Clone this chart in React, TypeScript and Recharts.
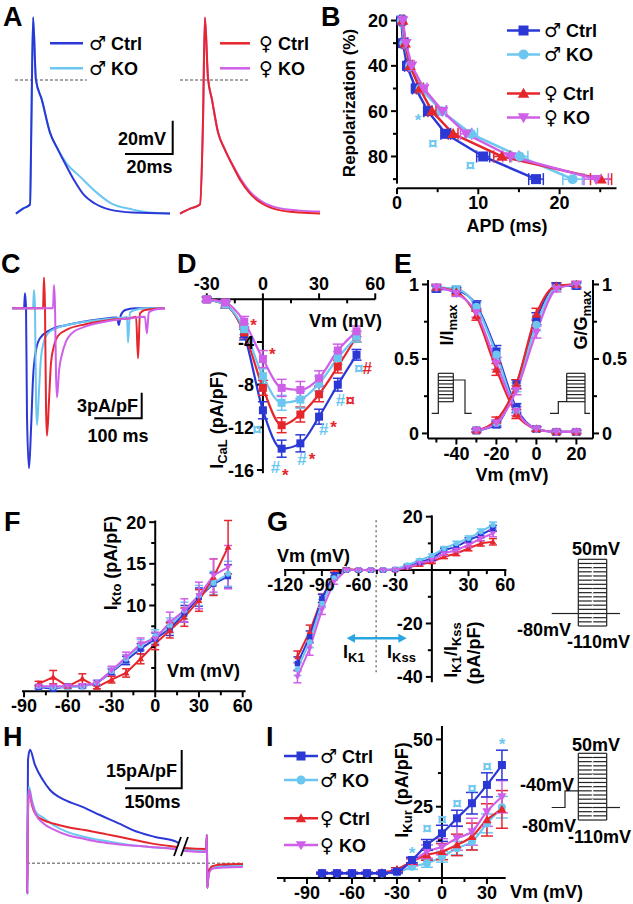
import React from "react";
import {
  ComposedChart,
  Line,
  Scatter,
  XAxis,
  YAxis,
  ErrorBar,
  ReferenceLine,
  ReferenceDot,
} from "recharts";

const FONT = "'Liberation Sans', Arial, 'DejaVu Sans', sans-serif";
const MC = "#2b38d6"; // male ctrl
const MK = "#6cc7f0"; // male KO
const FC = "#e6262d"; // female ctrl
const FK = "#cf5fe8"; // female KO

// ---- A: action potentials (ms, mV)
const apMcT = [0.4, 3.4, 6.4, 7.0, 7.7, 8.9, 11.4, 14.9, 18.3, 22.0, 25.5, 28.9, 34.0, 40.4, 50.2, 66.0];
const apMcV = [-80, -77, -74.5, -23, 39, 1.2, -10.9, -30.9, -41.2, -51.5, -60.6, -67.9, -73.9, -77.6, -79.4, -80];
const apMkT = [0.4, 3.4, 6.4, 7.0, 7.7, 8.9, 11.4, 14.9, 18.3, 22.0, 27.7, 34.8, 40.4, 50.2, 57.4, 66.0];
const apMkV = [-80, -77, -74.5, -23, 39, 1.2, -10.9, -30.9, -41.2, -49.7, -57.6, -67.3, -73.3, -77.6, -79.4, -80];
const apFT = [0, 4.3, 8.5, 9.8, 10.6, 11.9, 13.6, 16.2, 19.1, 22.6, 26.0, 29.8, 34.9, 41.3, 51.0, 59.6];
const apFcV = [-80, -77, -74.5, -23, 38.8, 2.4, -10.9, -30.9, -41.2, -51.5, -60.6, -67.9, -73.9, -77.6, -79.4, -80];
const apFkV = [-80, -77, -74.5, -23, 38.8, 2.4, -10.9, -30.9, -41.2, -50.9, -59.4, -66.7, -72.7, -76.4, -78.2, -78.8];

// ---- B: APD at % repolarization
const bRep = [20, 30, 40, 50, 60, 70, 80, 90];
const bMc = [0.54, 0.74, 1.23, 2.3, 3.8, 6.0, 10.6, 17.1];
const bMk = [0.6, 0.9, 1.6, 2.9, 5.5, 9.1, 15.1, 21.6];
const bFc = [0.7, 1.0, 1.6, 2.8, 4.3, 6.9, 12.9, 25.1];
const bFk = [0.7, 1.1, 1.8, 3.3, 5.6, 8.5, 14.0, 24.5];
const bMcE = [0.2, 0.2, 0.3, 0.4, 0.5, 0.6, 0.8, 0.9];
const bMkE = [0.2, 0.3, 0.3, 0.4, 0.5, 0.8, 1.0, 1.2];
const bFcE = [0.2, 0.3, 0.3, 0.4, 0.5, 0.6, 1.0, 1.3];
const bFkE = [0.2, 0.3, 0.3, 0.4, 0.5, 0.7, 1.0, 1.5];
const bNoteX = [2.6, 4.4, 9.0];
const bNoteY = [62, 74, 84];
const bNoteT = ["*", "¤", "¤"];

// ---- C: ICaL traces (ms, pA/pF)
const cMcT = [0, 24.5, 26.5, 28.6, 30.6, 34.7, 38.8, 42.8, 49, 57, 77.5, 112, 180, 214, 218, 222, 231, 251, 312];
const cMcI = [0, 0, 1.8, 0, -13, -19.2, -14.5, -8.5, -5, -3.6, -2.6, -2.0, -1.3, -1.1, -2.0, -0.8, -0.2, 0, 0];
const cMkT = [0, 42.8, 44.9, 46.9, 49, 51, 55, 59, 65, 73.4, 94, 130, 190, 230, 234.6, 236.6, 240.7, 251, 271, 312];
const cMkI = [0, 0, 2.2, 0, -11, -14, -10, -6, -4, -3, -2.3, -1.8, -1.3, -1.1, -1.0, -4.1, -0.5, -0.2, 0, 0];
const cFcT = [0, 63.2, 65.3, 67.3, 69.4, 71.4, 75.5, 79.6, 85.7, 93.8, 114, 150, 200, 240, 253, 257, 261, 271, 312];
const cFcI = [0, 0, 3.7, 0, -12, -15.3, -11, -6.5, -4.5, -3.3, -2.5, -1.9, -1.4, -1.2, -1.0, -6.0, -0.6, -0.2, 0];
const cFkT = [0, 83.6, 85.7, 87.8, 89.8, 91.8, 95.9, 102, 110, 122, 149, 200, 240, 271, 275, 279, 288, 312];
const cFkI = [0, 0, 2.8, 0, -8, -10.7, -7.5, -5.5, -4, -3, -2.2, -1.5, -1.2, -1.0, -3.0, -0.5, -0.2, 0];

// ---- D: ICaL I-V
const dV = [-30, -20, -10, 0, 10, 20, 30, 40, 50];
const dMc = [0, -0.5, -3.3, -10.4, -14, -13.5, -11, -8, -5.2];
const dMk = [0, -0.5, -2.8, -7.2, -9.7, -9.4, -7.9, -5.5, -3.5];
const dFc = [0, -0.5, -3.1, -8.3, -11.8, -10.8, -8.9, -6.3, -3.5];
const dFk = [0, -0.3, -2.1, -5.6, -8.3, -8.5, -7.4, -4.8, -3.0];
const dMcE = [0.2, 0.3, 0.5, 0.8, 0.8, 0.8, 0.7, 0.6, 0.5];
const dMkE = [0.2, 0.3, 0.5, 0.7, 0.7, 0.8, 0.7, 0.6, 0.5];
const dFcE = [0.2, 0.3, 0.5, 0.7, 0.7, 0.7, 0.7, 0.6, 0.5];
const dFkE = [0.2, 0.3, 0.5, 0.8, 0.8, 0.8, 0.7, 0.6, 0.5];
const dNoteX = [-5, 5, -3.2, 6.7, 12, 20.9, 26.3, 32.5, 37.8, 41.4, 46.7, 51.2, 55.7];
const dNoteY = [-2.0, -4.7, -12.2, -15.7, -16.1, -15, -14.6, -12.2, -11.6, -9.4, -9.4, -6.4, -6.4];
const dNoteT = ["*", "*", "¤", "#", "*", "#", "*", "#", "*", "#", "¤", "¤", "#"];
const dNoteC = [FC, FC, MK, MK, FC, MK, FC, MK, FC, MK, FC, MK, FC];

// ---- E: inactivation / activation
const eInV = [-50, -40, -30, -20, -10, 0, 10, 20];
const eInMc = [0.97, 0.96, 0.86, 0.55, 0.17, 0.03, 0.01, 0.01];
const eInMk = [0.98, 0.97, 0.85, 0.53, 0.15, 0.03, 0.01, 0.01];
const eInFc = [0.98, 0.95, 0.79, 0.43, 0.13, 0.03, 0.01, 0.01];
const eInFk = [0.98, 0.94, 0.81, 0.47, 0.15, 0.03, 0.01, 0.01];
const eInE = [0.02, 0.02, 0.03, 0.04, 0.03, 0.015, 0.01, 0.01];
const eAcV = [-30, -20, -10, 0, 10, 20];
const eAcMc = [0.02, 0.06, 0.33, 0.77, 0.99, 0.99];
const eAcMk = [0.02, 0.07, 0.31, 0.73, 0.98, 1.0];
const eAcFc = [0.02, 0.09, 0.33, 0.8, 0.99, 1.0];
const eAcFk = [0.02, 0.07, 0.29, 0.68, 0.97, 1.0];
const eAcE = [0.01, 0.02, 0.03, 0.04, 0.02, 0.02];

// ---- F: IKto I-V
const fV = [-80, -70, -60, -50, -40, -30, -20, -10, 0, 10, 20, 30, 40, 50];
const fMc = [0.2, 0.0, 0.3, 0.3, 0.7, 2.0, 3.4, 4.8, 6.0, 7.2, 9.0, 11.0, 12.6, 13.5];
const fMk = [0.3, 0.2, 0.2, 0.3, 0.7, 2.1, 3.6, 5.2, 6.3, 7.6, 9.4, 11.2, 12.7, 13.8];
const fFc = [0.6, 1.4, 0.3, 1.2, 0.2, 1.1, 1.9, 3.6, 5.4, 7.0, 8.6, 10.6, 13.4, 17.0];
const fFk = [0.3, 0.3, 0.3, 0.4, 0.7, 2.2, 3.8, 5.4, 6.0, 8.0, 9.4, 11.2, 13.6, 14.6];
const fMcE = [0.2, 0.2, 0.2, 0.2, 0.3, 0.4, 0.5, 0.6, 0.7, 0.8, 1.0, 1.1, 1.3, 1.4];
const fMkE = [0.2, 0.2, 0.2, 0.2, 0.3, 0.4, 0.5, 0.7, 0.8, 0.9, 1.0, 1.2, 1.4, 1.5];
const fFcE = [0.3, 0.8, 0.2, 0.6, 0.2, 0.4, 0.5, 0.6, 0.7, 0.9, 1.1, 1.3, 2.2, 3.2];
const fFkE = [0.2, 0.2, 0.2, 0.2, 0.3, 0.5, 0.6, 0.7, 0.8, 1.2, 1.4, 1.6, 2.0, 2.6];

// ---- G: IK1 / IKss I-V
const gV = [-110, -100, -90, -80, -70, -60, -50, -40, -30, -20, -10, 0, 10, 20, 30, 40, 50];
const gMc = [-35, -25, -10.6, -1.8, 0, 0, 0, 0, 0.2, 1.5, 2.9, 4.4, 7.5, 8.7, 11.2, 13.1, 15.6];
const gMk = [-37, -26.9, -12.5, -3, 0, 0, 0, 0, 0.3, 1.9, 3.7, 5.4, 8.1, 10, 11.9, 14.4, 16.9];
const gFc = [-32.5, -23.1, -10.6, -1.2, 0.4, 0, 0, 0, 0.1, 1.0, 2.0, 3.1, 5.0, 6.2, 8.1, 10, 10.6];
const gFk = [-40, -29.4, -15, -4.4, 0, 0, 0, 0, 0.1, 1.0, 2.5, 3.7, 6.2, 7.5, 9.4, 11.9, 13.7];
const gME = [2.5, 2.2, 1.5, 0.8, 0.4, 0.3, 0.3, 0.3, 0.3, 0.4, 0.5, 0.6, 0.7, 0.8, 0.9, 1.0, 1.1];
const gFE = [2.2, 2.5, 1.6, 0.9, 0.4, 0.3, 0.3, 0.3, 0.3, 0.4, 0.5, 0.6, 0.7, 0.8, 0.9, 1.0, 1.2];

// ---- H: IKur traces (ms, pA/pF)
const hMcT = [0, 0.5, 2.6, 7.9, 21, 42, 61, 100, 148, 193, 246, 280, 339, 397, 418, 474, 476, 477, 481, 492, 524, 571];
const hMcI = [0, -11.7, 40.4, 44.4, 38.5, 32.6, 28.7, 24.8, 22, 18.9, 15.4, 13, 10.3, 8.3, 5.6, 4.5, 11.1, -9.6, -2.6, -1.8, -1.0, -0.7];
const hT = [0, 0.5, 2.6, 5.3, 13, 24, 42, 74, 106, 153, 193, 259, 325, 397, 418, 474, 476, 477, 481, 492, 524, 571];
const hMkI = [0, -11.7, 22, 30, 24.8, 20, 18, 14.6, 12.3, 10.3, 9.1, 7.5, 6.4, 5.6, 5.2, 4.9, 11.1, -9.6, -3.5, -1.5, -1.2, -1.0];
const hFcI = [0, -11.7, 20, 28.7, 22.8, 18.9, 17, 15.4, 14.2, 13, 11.9, 9.9, 7.9, 6.4, 6.0, 5.6, 11.1, -9.6, -3.0, -1.0, -0.4, -0.3];
const hFkI = [0, -11.7, 20, 28.7, 23.6, 18.9, 15.8, 13, 11.1, 9.5, 8.3, 7.2, 6.4, 5.4, 4.8, 4.4, 11.1, -9.6, -4, -2, -1.6, -1.4];

// ---- I: IKur I-V
const iV = [-80, -70, -60, -50, -40, -30, -20, -10, 0, 10, 20, 30, 40];
const iMc = [0.3, 0.3, 0.3, 0.3, 0.3, 0.9, 5.2, 10.8, 15.1, 20.7, 26.3, 33.1, 40.5];
const iMk = [0.2, 0.2, 0.2, 0.2, 0.2, 0.5, 2.7, 4.0, 6.4, 9.6, 12.0, 18.8, 24.8];
const iFc = [0.3, 0.3, 0.3, 0.3, 0.5, 1.7, 4.6, 7.1, 8.3, 10.8, 13.9, 20.1, 24.0];
const iFk = [0.3, 0.3, 0.3, 0.3, 0.3, 0.9, 4.6, 8.3, 10.1, 13.3, 15.7, 23.2, 28.7];
const iMcE = [0.3, 0.3, 0.3, 0.3, 0.3, 0.5, 1.0, 2.0, 3.0, 3.0, 4.0, 4.5, 5.5];
const iMkE = [0.2, 0.2, 0.2, 0.2, 0.2, 0.4, 1.0, 1.5, 2.0, 2.5, 3.0, 3.5, 4.0];
const iFcE = [0.3, 0.3, 0.3, 0.3, 0.4, 0.6, 1.0, 2.0, 3.0, 4.0, 5.0, 6.0, 7.0];
const iFkE = [0.3, 0.3, 0.3, 0.3, 0.3, 0.6, 1.5, 2.5, 3.0, 4.5, 5.0, 5.5, 6.0];
const iNoteX = [-20, -10, 0, 10, 20, 30, 40];
const iNoteY = [9.5, 17, 20.5, 26.3, 32, 40, 50];
const iNoteT = ["*", "¤", "¤", "¤", "¤", "¤", "*"];

// protocol step levels (mV)
const protoSteps = [-110, -100, -90, -80, -70, -60, -50, -40, -30, -20, -10, 0, 10, 20, 30, 40, 50];
const eInsetSteps = [0, 1, 2, 3, 4, 5, 6, 7, 8];

const mk = (xs: number[], ys: number[], es?: number[]) =>
  xs.map((x, i) => ({ x, y: ys[i], e: es ? es[i] : 0 }));

// chart frame: r = plot rect in page pixels [left, top, right, bottom]
const M = 30;
type Rect = [number, number, number, number];
const pos = (r: Rect): React.CSSProperties => ({ position: "absolute", left: r[0] - M, top: r[1] - M });
const W = (r: Rect) => r[2] - r[0] + 2 * M;
const H = (r: Rect) => r[3] - r[1] + 2 * M;
const MAR = { top: M, right: M, bottom: M, left: M };

const TF: any = { fontFamily: FONT, fontWeight: 700, fontSize: 18, fill: "#000" };

function marker(kind: string, size: number, color: string) {
  return (p: any) => {
    const { cx, cy } = p;
    if (cx == null || cy == null) return <g />;
    const h = size / 2;
    if (kind === "sq") return <rect x={cx - h} y={cy - h} width={size} height={size} fill={color} />;
    if (kind === "ci") return <circle cx={cx} cy={cy} r={h} fill={color} />;
    if (kind === "tu")
      return <polygon points={`${cx},${cy - h * 1.15} ${cx + h * 1.15},${cy + h * 0.85} ${cx - h * 1.15},${cy + h * 0.85}`} fill={color} />;
    return <polygon points={`${cx},${cy + h * 1.15} ${cx + h * 1.15},${cy - h * 0.85} ${cx - h * 1.15},${cy - h * 0.85}`} fill={color} />;
  };
}

function series(id: string, data: any[], color: string, kind: string, size: number, o: any = {}) {
  return [
    <Line key={id + "l"} data={data} dataKey="y" type={o.curve || "linear"} stroke={color}
      strokeWidth={o.lw || 2} dot={false} activeDot={false} isAnimationActive={false} />,
    <Scatter key={id + "s"} data={data} dataKey="y" fill={color} shape={marker(kind, size, color)}
      isAnimationActive={false}>
      <ErrorBar dataKey="e" direction={o.dir || "y"} width={o.cap || 5} stroke={color} strokeWidth={1.5} />
    </Scatter>,
  ];
}

function trace(id: string, data: any[], color: string, lw = 2) {
  return <Line key={id} data={data} dataKey="y" type="monotone" stroke={color} strokeWidth={lw}
    dot={false} activeDot={false} isAnimationActive={false} />;
}

function tickMark(side: string, x: number, y: number, label: string | null, len: number) {
  const ln = side === "b" ? [x, y, x, y + len] : side === "t" ? [x, y, x, y - len]
    : side === "l" ? [x - len, y, x, y] : [x, y, x + len, y];
  let t: any = null;
  if (label !== null) {
    if (side === "b") t = <text x={x} y={y + len + 15} textAnchor="middle" {...TF}>{label}</text>;
    else if (side === "t") t = <text x={x} y={y - len - 3} textAnchor="middle" {...TF}>{label}</text>;
    else if (side === "l") t = <text x={x - len - 3} y={y + 6.5} textAnchor="end" {...TF}>{label}</text>;
    else t = <text x={x + len + 3} y={y + 6.5} textAnchor="start" {...TF}>{label}</text>;
  }
  return (
    <g>
      <line x1={ln[0]} y1={ln[1]} x2={ln[2]} y2={ln[3]} stroke="#000" strokeWidth={2} />
      {t}
    </g>
  );
}

function refTicks(id: string, side: string, along: string, at: number, vals: number[], labeled: number[], minorSide?: string) {
  return vals.map((v) => {
    const on = labeled.includes(v);
    const s = !on && minorSide ? minorSide : side;
    return (
      <ReferenceDot key={id + v} x={along === "x" ? v : at} y={along === "x" ? at : v} r={1}
        ifOverflow="visible" fill="none" stroke="none"
        shape={(p: any) => tickMark(s, p.cx, p.cy, on ? String(v) : null, on ? 6 : 4)} />
    );
  });
}

function axisSeg(id: string, x1: number, y1: number, x2: number, y2: number) {
  return <ReferenceLine key={id} segment={[{ x: x1, y: y1 }, { x: x2, y: y2 }]} stroke="#000" strokeWidth={2} ifOverflow="visible" />;
}

function notes(id: string, xs: number[], ys: number[], txt: string[], cols: string[] | string, size = 16) {
  return xs.map((x, i) => (
    <ReferenceDot key={id + i} x={x} y={ys[i]} r={1} ifOverflow="visible" fill="none" stroke="none"
      shape={(p: any) => (
        <text x={p.cx} y={p.cy + (txt[i] === "*" ? size * 0.6 : size * 0.35)} textAnchor="middle"
          fontFamily={FONT} fontWeight={700} fontSize={size}
          fill={Array.isArray(cols) ? cols[i] : cols}>{txt[i]}</text>
      )} />
  ));
}

const hideX = (d: number[]) => <XAxis type="number" dataKey="x" domain={d} hide />;
const hideY = (d: number[], rev = false) => <YAxis type="number" dataKey="y" domain={d} reversed={rev} hide />;

// plot rectangles
const rA1: Rect = [15, 9.4, 170, 217.3];
const rA2: Rect = [180, 9.4, 321, 217.3];
const rB: Rect = [397.3, 16.2, 616.8, 188.4];
const rC: Rect = [12, 270, 165, 470];
const rD: Rect = [202.8, 294.2, 378.8, 480.9];
const rE: Rect = [428.3, 279.8, 593.3, 438.3];
const rF: Rect = [22, 517.5, 245.6, 690.8];
const rG: Rect = [283.8, 513.9, 506.2, 687.5];
const rH: Rect = [27, 745, 243.2, 895];
const rI: Rect = [276.7, 726, 505.4, 878];

function vtext(x: number, y: number, children: any, size = 18) {
  return (
    <text transform={`translate(${x},${y}) rotate(-90)`} textAnchor="middle" fontFamily={FONT} fontWeight={700} fontSize={size} fill="#000">
      {children}
    </text>
  );
}
const sub = (s: string) => <tspan fontSize={13} dy={4}>{s}</tspan>;
const up = (s: string) => <tspan dy={-4}>{s}</tspan>;

function t18(x: number, y: number, s: string, anchor = "start", size = 18, fill = "#000") {
  return <text x={x} y={y} textAnchor={anchor} fontFamily={FONT} fontWeight={700} fontSize={size} fill={fill}>{s}</text>;
}

// legend-style label with a larger sex symbol
function sexLabel(x: number, y: number, sym: string, s: string) {
  return (
    <text x={x} y={y} fontFamily={FONT} fontWeight={700} fontSize={18} fill="#000">
      <tspan fontFamily="'DejaVu Sans', sans-serif" fontSize={19}>{sym}</tspan>
      <tspan> {s}</tspan>
    </text>
  );
}

function Protocol({ top, x0, x1, pre }: { top: number; x0: number; x1: number; pre: boolean }) {
  const y = (v: number) => top + (50 - v) * 0.417;
  const base = y(-80);
  return (
    <g stroke="#222" strokeWidth={1.2} fill="none">
      {pre ? (
        <path d={`M551.7 ${base} H565 V${y(-40)} H${x0}`} />
      ) : (
        <path d={`M551.7 ${base} H${x0}`} />
      )}
      <path d={`M${x1} ${base} H620`} />
      {protoSteps.map((v) => (
        <line key={v} x1={x0} x2={x1} y1={y(v)} y2={y(v)} />
      ))}
      <line x1={x0} x2={x0} y1={y(50)} y2={y(-110)} />
      <line x1={x1} x2={x1} y1={y(50)} y2={y(-110)} />
      <line x1={(x0 + x1) / 2} x2={(x0 + x1) / 2} y1={y(50) + 1} y2={y(-110) - 1} stroke="#fff" strokeWidth={1.5} strokeDasharray="3 2" />
    </g>
  );
}

function Overlay() {
  const legend = (x0: number, x1: number, tx: number, ys: number[], sz: number) => {
    const items = [
      [MC, "sq", "♂", "Ctrl"],
      [MK, "ci", "♂", "KO"],
      [FC, "tu", "♀", "Ctrl"],
      [FK, "td", "♀", "KO"],
    ];
    return items.map((it, i) => (
      <g key={i}>
        <line x1={x0} x2={x1} y1={ys[i]} y2={ys[i]} stroke={it[0]} strokeWidth={2.5} />
        {marker(it[1], sz, it[0])({ cx: (x0 + x1) / 2, cy: ys[i] })}
        {sexLabel(tx, ys[i] + 6.5, it[2], it[3])}
      </g>
    ));
  };
  const eY = (i: number) => 373.3 + i * 3.55;
  return (
    <svg width={633} height={904} style={{ position: "absolute", left: 0, top: 0, pointerEvents: "none" }}>
      {/* panel letters */}
      {t18(3, 26, "A", "start", 27)}
      {t18(321, 26, "B", "start", 27)}
      {t18(1, 273, "C", "start", 27)}
      {t18(177, 273, "D", "start", 27)}
      {t18(394, 273, "E", "start", 27)}
      {t18(4, 531, "F", "start", 27)}
      {t18(267, 531, "G", "start", 27)}
      {t18(3, 746, "H", "start", 27)}
      {t18(266, 746, "I", "start", 27)}

      {/* A legend + scale */}
      <line x1={50} x2={83} y1={43.3} y2={43.3} stroke={MC} strokeWidth={2.5} />
      <line x1={50} x2={83} y1={68.3} y2={68.3} stroke={MK} strokeWidth={2.5} />
      {sexLabel(89, 50, "♂", "Ctrl")}
      {sexLabel(89, 75, "♂", "KO")}
      <line x1={220} x2={250} y1={43.3} y2={43.3} stroke={FC} strokeWidth={2.5} />
      <line x1={220} x2={250} y1={68.3} y2={68.3} stroke={FK} strokeWidth={2.5} />
      {sexLabel(259, 50, "♀", "Ctrl")}
      {sexLabel(259, 75, "♀", "KO")}
      <path d="M172.7 120.7 V154 H125" stroke="#000" strokeWidth={2} fill="none" />
      {t18(166, 145, "20mV", "end")}
      {t18(149.5, 173, "20ms", "middle")}

      {/* B */}
      {legend(507, 540, 544, [30.5, 54.5, 93.5, 117.5], 10)}
      {vtext(355, 103, "Repolarization (%)", 17)}
      {t18(507, 232, "APD (ms)", "middle")}

      {/* C scale */}
      <path d="M141.7 392.7 V418.3 H94.3" stroke="#000" strokeWidth={2} fill="none" />
      {t18(138, 412, "3pA/pF", "end")}
      {t18(118, 442, "100 ms", "middle")}

      {/* D labels */}
      {t18(309, 327, "Vm (mV)")}
      {vtext(223, 420, <>I{sub("CaL")}{up(" (pA/pF)")}</>)}

      {/* E */}
      {t18(512, 481, "Vm (mV)", "middle")}
      {vtext(453, 325, <>I/I{sub("max")}</>)}
      {vtext(587, 320, <>G/G{sub("max")}</>)}
      <g stroke="#222" strokeWidth={1.2} fill="none">
        <path d="M431.7 413.3 H438.3 V373.3" />
        {eInsetSteps.map((i) => <line key={"el" + i} x1={438.3} x2={453.3} y1={eY(i)} y2={eY(i)} />)}
        <path d="M453.3 373.3 V401.7 M453.3 380 H465 V413.3 H471.7" />
        <path d="M550 413.3 H558.3 V401.7 H566.7 V373.3" />
        {eInsetSteps.map((i) => <line key={"er" + i} x1={566.7} x2={585} y1={eY(i)} y2={eY(i)} />)}
        <path d="M585 373.3 V413.3 H590" />
      </g>

      {/* F */}
      {vtext(117, 563, <>I{sub("Kto")}{up(" (pA/pF)")}</>)}
      {t18(167, 677, "Vm (mV)")}

      {/* G */}
      {t18(277, 562, "Vm (mV)")}
      {vtext(457, 650, <>I{sub("K1")}{up("/I")}{sub("Kss")}</>)}
      {vtext(480, 653, "(pA/pF)")}
      <line x1={352} x2={401} y1={638.3} y2={638.3} stroke="#29a6e0" strokeWidth={2.5} />
      <polygon points="346.7,638.3 355,633.8 355,642.8" fill="#29a6e0" />
      <polygon points="406.7,638.3 398.4,633.8 398.4,642.8" fill="#29a6e0" />
      <text x={343} y={658} fontFamily={FONT} fontWeight={700} fontSize={18}>I{sub("K1")}</text>
      <text x={387} y={658} fontFamily={FONT} fontWeight={700} fontSize={18}>I{sub("Kss")}</text>
      <Protocol top={559.3} x0={578.3} x1={606.7} pre={false} />
      {t18(572, 555, "50mV")}
      {t18(517, 636, "-80mV")}
      {t18(567, 648, "-110mV")}

      {/* H */}
      <polygon points="174,856 181,837 188,837 181,856" fill="#fff" />
      <line x1={174} y1={856} x2={181} y2={837} stroke="#000" strokeWidth={1.8} />
      <line x1={181} y1={856} x2={188} y2={837} stroke="#000" strokeWidth={1.8} />
      <path d="M181.7 750 V788.3 H125" stroke="#000" strokeWidth={2} fill="none" />
      {t18(177, 777, "15pA/pF", "end")}
      {t18(152.5, 808, "150ms", "middle")}

      {/* I */}
      {legend(284, 318, 320, [756, 780, 818.3, 845], 9)}
      {vtext(408, 790, <>I{sub("Kur")}{up(" (pA/pF)")}</>)}
      {t18(510, 898, "Vm (mV)")}
      <Protocol top={753.3} x0={578.3} x1={606.7} pre={true} />
      {t18(572, 751, "50mV")}
      {t18(520, 791, "-40mV")}
      {t18(522, 832, "-80mV")}
      {t18(568, 843, "-110mV")}
    </svg>
  );
}

export default function App() {
  return (
    <div style={{ position: "absolute", left: 0, top: 0, width: 633, height: 904, background: "#fff", overflow: "hidden" }}>
      <style>{".recharts-surface{overflow:visible}"}</style>

      {/* A male */}
      <div style={pos(rA1)}>
        <ComposedChart width={W(rA1)} height={H(rA1)} margin={MAR}>
          {hideX([0, 66])}
          {hideY([-82, 44])}
          <ReferenceLine segment={[{ x: 0, y: 1 }, { x: 30.6, y: 1 }]} stroke="#888" strokeWidth={1.5} strokeDasharray="3 2" ifOverflow="visible" />
          {trace("amk", mk(apMkT, apMkV), MK)}
          {trace("amc", mk(apMcT, apMcV), MC)}
        </ComposedChart>
      </div>

      {/* A female */}
      <div style={pos(rA2)}>
        <ComposedChart width={W(rA2)} height={H(rA2)} margin={MAR}>
          {hideX([0, 60])}
          {hideY([-82, 44])}
          <ReferenceLine segment={[{ x: 0, y: 1 }, { x: 29.8, y: 1 }]} stroke="#888" strokeWidth={1.5} strokeDasharray="3 2" ifOverflow="visible" />
          {trace("afk", mk(apFT, apFkV), FK)}
          {trace("afc", mk(apFT, apFcV), FC)}
        </ComposedChart>
      </div>

      {/* B */}
      <div style={pos(rB)}>
        <ComposedChart width={W(rB)} height={H(rB)} margin={MAR}>
          {hideX([0, 27])}
          {hideY([18, 94], true)}
          {axisSeg("bx", 0, 94, 27, 94)}
          {axisSeg("by", 0, 18.3, 0, 92)}
          {refTicks("bxt", "b", "x", 94, [0, 5, 10, 15, 20, 25], [0, 10, 20])}
          {refTicks("byt", "l", "y", 0, [20, 30, 40, 50, 60, 70, 80, 90], [20, 40, 60, 80])}
          {series("bmc", mk(bMc, bRep, bMcE), MC, "sq", 10, { dir: "x", lw: 2.5, cap: 6 })}
          {series("bmk", mk(bMk, bRep, bMkE), MK, "ci", 10, { dir: "x", lw: 2.5, cap: 6 })}
          {series("bfc", mk(bFc, bRep, bFcE), FC, "tu", 10, { dir: "x", lw: 2.5, cap: 6 })}
          {series("bfk", mk(bFk, bRep, bFkE), FK, "td", 10, { dir: "x", lw: 2.5, cap: 6 })}
          {notes("bn", bNoteX, bNoteY, bNoteT, MK, 17)}
        </ComposedChart>
      </div>

      {/* C */}
      <div style={pos(rC)}>
        <ComposedChart width={W(rC)} height={H(rC)} margin={MAR}>
          {hideX([0, 312])}
          {hideY([-19.4, 4.6])}
          {trace("cmc", mk(cMcT, cMcI), MC)}
          {trace("cmk", mk(cMkT, cMkI), MK)}
          {trace("cfc", mk(cFcT, cFcI), FC)}
          {trace("cfk", mk(cFkT, cFkI), FK)}
        </ComposedChart>
      </div>

      {/* D */}
      <div style={pos(rD)}>
        <ComposedChart width={W(rD)} height={H(rD)} margin={MAR}>
          {hideX([-32, 62])}
          {hideY([-17, 0.5])}
          {axisSeg("dx", -30, 0, 60, 0)}
          {axisSeg("dy", 0, 0, 0, -16.3)}
          {refTicks("dxt", "t", "x", 0, [-30, -15, 0, 15, 30, 45, 60], [-30, 0, 30, 60], "b")}
          {refTicks("dyt", "l", "y", 0, [-4, -8, -12, -16], [-4, -8, -12, -16])}
          {series("dmc", mk(dV, dMc, dMcE), MC, "sq", 8, { curve: "monotone", lw: 2.2 })}
          {series("dfc", mk(dV, dFc, dFcE), FC, "sq", 8, { curve: "monotone", lw: 2.2 })}
          {series("dmk", mk(dV, dMk, dMkE), MK, "sq", 8, { curve: "monotone", lw: 2.2 })}
          {series("dfk", mk(dV, dFk, dFkE), FK, "sq", 8, { curve: "monotone", lw: 2.2 })}
          {notes("dn", dNoteX, dNoteY, dNoteT, dNoteC, 17)}
        </ComposedChart>
      </div>

      {/* E */}
      <div style={pos(rE)}>
        <ComposedChart width={W(rE)} height={H(rE)} margin={MAR}>
          {hideX([-54.2, 28.3])}
          {hideY([-0.034, 1.03])}
          {axisSeg("ex", -54.2, -0.034, 28.3, -0.034)}
          {axisSeg("eyl", -54.2, -0.034, -54.2, 1.03)}
          {axisSeg("eyr", 28.3, -0.034, 28.3, 1.03)}
          {refTicks("ext", "b", "x", -0.034, [-50, -40, -30, -20, -10, 0, 10, 20], [-40, -20, 0, 20])}
          {refTicks("eylt", "l", "y", -54.2, [0, 0.25, 0.5, 0.75, 1], [0, 0.5, 1])}
          {refTicks("eyrt", "r", "y", 28.3, [0, 0.25, 0.5, 0.75, 1], [0, 0.5, 1])}
          {series("eimc", mk(eInV, eInMc, eInE), MC, "sq", 8, { curve: "monotone", lw: 2.2 })}
          {series("eimk", mk(eInV, eInMk, eInE), MK, "ci", 8, { curve: "monotone", lw: 2.2 })}
          {series("eifc", mk(eInV, eInFc, eInE), FC, "tu", 8, { curve: "monotone", lw: 2.2 })}
          {series("eifk", mk(eInV, eInFk, eInE), FK, "td", 8, { curve: "monotone", lw: 2.2 })}
          {series("eamc", mk(eAcV, eAcMc, eAcE), MC, "sq", 8, { curve: "monotone", lw: 2.2 })}
          {series("eamk", mk(eAcV, eAcMk, eAcE), MK, "ci", 8, { curve: "monotone", lw: 2.2 })}
          {series("eafc", mk(eAcV, eAcFc, eAcE), FC, "tu", 8, { curve: "monotone", lw: 2.2 })}
          {series("eafk", mk(eAcV, eAcFk, eAcE), FK, "td", 8, { curve: "monotone", lw: 2.2 })}
        </ComposedChart>
      </div>

      {/* F */}
      <div style={pos(rF)}>
        <ComposedChart width={W(rF)} height={H(rF)} margin={MAR}>
          {hideX([-91.4, 62])}
          {hideY([-0.3, 20.5])}
          {axisSeg("fx", -91.4, -0.3, 62, -0.3)}
          {axisSeg("fy", 0, -0.3, 0, 20.2)}
          {refTicks("fxt", "b", "x", -0.3, [-90, -75, -60, -45, -30, -15, 0, 15, 30, 45, 60], [-90, -60, -30, 0, 30, 60])}
          {refTicks("fyt", "l", "y", 0, [20, 17.5, 15, 12.5, 10, 7.5, 5, 2.5], [20, 15, 10])}
          {series("fmc", mk(fV, fMc, fMcE), MC, "sq", 6, { cap: 4 })}
          {series("fmk", mk(fV, fMk, fMkE), MK, "ci", 6, { cap: 4 })}
          {series("ffc", mk(fV, fFc, fFcE), FC, "tu", 6, { cap: 4 })}
          {series("ffk", mk(fV, fFk, fFkE), FK, "td", 6, { cap: 4 })}
        </ComposedChart>
      </div>

      {/* G */}
      <div style={pos(rG)}>
        <ComposedChart width={W(rG)} height={H(rG)} margin={MAR}>
          {hideX([-121, 61])}
          {hideY([-44, 21])}
          {axisSeg("gx", -121, 0, 61, 0)}
          {axisSeg("gy", 0, 20.5, 0, -42)}
          {refTicks("gxt", "b", "x", 0, [-120, -105, -90, -75, -60, -45, -30, -15, 15, 30, 45, 60], [-120, -90, -60, -30, 30, 60])}
          {refTicks("gyt", "l", "y", 0, [20, 10, -10, -20, -30, -40], [20, -20, -40])}
          <ReferenceLine segment={[{ x: -45.6, y: 18.7 }, { x: -45.6, y: -38.6 }]} stroke="#777" strokeWidth={1.5} strokeDasharray="2 3" ifOverflow="visible" />
          {series("gfc", mk(gV, gFc, gFE), FC, "tu", 5.5, { cap: 4 })}
          {series("gmc", mk(gV, gMc, gME), MC, "sq", 5.5, { cap: 4 })}
          {series("gmk", mk(gV, gMk, gME), MK, "ci", 5.5, { cap: 4 })}
          {series("gfk", mk(gV, gFk, gFE), FK, "td", 5.5, { cap: 4 })}
        </ComposedChart>
      </div>

      {/* H */}
      <div style={pos(rH)}>
        <ComposedChart width={W(rH)} height={H(rH)} margin={MAR}>
          {hideX([0, 572])}
          {hideY([-12.4, 46.3])}
          <ReferenceLine segment={[{ x: 0, y: 0 }, { x: 571, y: 0 }]} stroke="#888" strokeWidth={1.5} strokeDasharray="3 2" ifOverflow="visible" />
          {trace("hmc", mk(hMcT, hMcI), MC)}
          {trace("hmk", mk(hT, hMkI), MK)}
          {trace("hfc", mk(hT, hFcI), FC)}
          {trace("hfk", mk(hT, hFkI), FK)}
        </ComposedChart>
      </div>

      {/* I */}
      <div style={pos(rI)}>
        <ComposedChart width={W(rI)} height={H(rI)} margin={MAR}>
          {hideX([-110, 42.5])}
          {hideY([-1.5, 55])}
          {axisSeg("ix", -110, -1.5, 42.5, -1.5)}
          {axisSeg("iy", 0, -1.5, 0, 55)}
          {refTicks("ixt", "b", "x", -1.5, [-105, -90, -75, -60, -45, -30, -15, 0, 15, 30], [-90, -60, -30, 0, 30])}
          {refTicks("iyt", "l", "y", 0, [50, 37.5, 25, 12.5], [50, 25])}
          {series("imk", mk(iV, iMk, iMkE), MK, "ci", 8, { curve: "monotone", lw: 2.2, cap: 6 })}
          {series("ifc", mk(iV, iFc, iFcE), FC, "tu", 8, { curve: "monotone", lw: 2.2, cap: 6 })}
          {series("ifk", mk(iV, iFk, iFkE), FK, "td", 8, { curve: "monotone", lw: 2.2, cap: 6 })}
          {series("imc", mk(iV, iMc, iMcE), MC, "sq", 8, { curve: "monotone", lw: 2.2, cap: 6 })}
          {notes("in", iNoteX, iNoteY, iNoteT, MK, 17)}
        </ComposedChart>
      </div>

      <Overlay />
    </div>
  );
}
